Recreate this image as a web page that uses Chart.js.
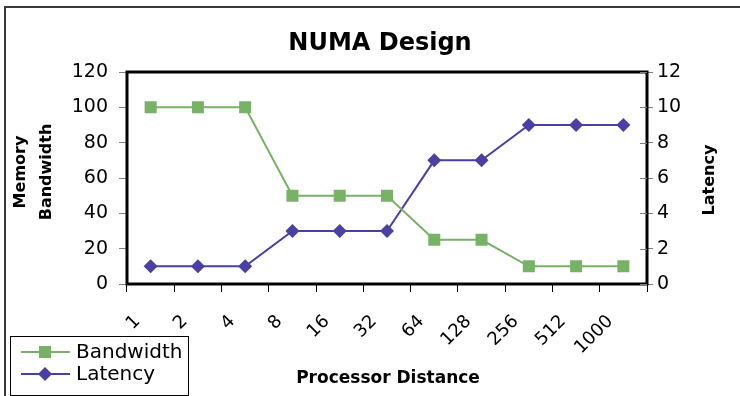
<!DOCTYPE html>
<html>
<head>
<meta charset="utf-8">
<script src="https://cdn.jsdelivr.net/npm/chart.js@4/dist/chart.umd.min.js"></script>
<style>
  html, body { margin: 0; padding: 0; background: #fff; overflow: hidden; }
  #wrap { position: relative; width: 740px; height: 396px; }
</style>
</head>
<body>
<div id="wrap"><canvas id="chart" width="740" height="396"></canvas></div>
<script>
// Processor distance categories and the two measured series
const distances = ['1', '2', '4', '8', '16', '32', '64', '128', '256', '512', '1000'];
const bandwidth = [100, 100, 100, 50, 50, 50, 25, 25, 10, 10, 10];
const latency = [1, 1, 1, 3, 3, 3, 7, 7, 9, 9, 9];

// Axis ranges
const bandwidthRange = [0, 120, 20];
const latencyRange = [0, 12, 2];

const GREEN = '#78b266';
const PURPLE = '#4a3fa2';
const FONT = '"DejaVu Sans", "Liberation Sans", Arial, sans-serif';

const decor = {
  id: 'decor',
  beforeDraw(chart) {
    const ctx = chart.ctx;
    ctx.save();
    ctx.fillStyle = '#fff';
    ctx.fillRect(0, 0, chart.width, chart.height);
    // outer frame (left and top edges)
    ctx.strokeStyle = '#3a3a3a';
    ctx.lineWidth = 2;
    ctx.beginPath();
    ctx.moveTo(5, chart.height);
    ctx.lineTo(5, 7);
    ctx.lineTo(chart.width, 7);
    ctx.stroke();
    ctx.restore();
  },
  afterDraw(chart) {
    const ctx = chart.ctx;
    const a = chart.chartArea;
    ctx.save();

    // plot frame
    ctx.strokeStyle = '#000';
    ctx.lineWidth = 3;
    ctx.strokeRect(a.left, a.top, a.right - a.left, a.bottom - a.top);

    // inner tick marks on the latency axis
    const y1 = chart.scales.y1;
    ctx.strokeStyle = '#7f7f7f';
    ctx.lineWidth = 1;
    y1.ticks.forEach((t) => {
      const y = Math.round(y1.getPixelForValue(t.value)) + 0.5;
      ctx.beginPath();
      ctx.moveTo(a.right - 7, y);
      ctx.lineTo(a.right, y);
      ctx.stroke();
    });

    ctx.fillStyle = '#000';
    ctx.textAlign = 'center';

    // chart title
    ctx.font = 'bold 24px ' + FONT;
    ctx.textBaseline = 'alphabetic';
    ctx.fillText('NUMA Design', 380, 50);

    // x axis title
    ctx.font = 'bold 17px ' + FONT;
    ctx.fillText('Processor Distance', 388, 383);

    // y axis titles
    ctx.font = 'bold 16px ' + FONT;
    ctx.textBaseline = 'middle';
    const vtext = (txt, x, y) => {
      ctx.save();
      ctx.translate(x, y);
      ctx.rotate(-Math.PI / 2);
      ctx.fillText(txt, 0, 0);
      ctx.restore();
    };
    vtext('Memory', 21, 172);
    vtext('Bandwidth', 47, 172);
    vtext('Latency', 710, 180);

    // legend
    ctx.fillStyle = '#fff';
    ctx.fillRect(10.5, 336.5, 178, 59);
    ctx.strokeStyle = '#000';
    ctx.lineWidth = 1;
    ctx.strokeRect(10.5, 336.5, 178, 59);
    const rows = [
      { label: 'Bandwidth', color: GREEN, style: 'rect', y: 352 },
      { label: 'Latency', color: PURPLE, style: 'diamond', y: 374 }
    ];
    rows.forEach((r) => {
      ctx.strokeStyle = r.color;
      ctx.lineWidth = 2;
      ctx.beginPath();
      ctx.moveTo(21, r.y);
      ctx.lineTo(70, r.y);
      ctx.stroke();
      ctx.fillStyle = r.color;
      ctx.beginPath();
      if (r.style === 'rect') {
        ctx.rect(45 - 6, r.y - 6, 12, 12);
      } else {
        ctx.moveTo(45 - 7, r.y);
        ctx.lineTo(45, r.y - 7);
        ctx.lineTo(45 + 7, r.y);
        ctx.lineTo(45, r.y + 7);
        ctx.closePath();
      }
      ctx.fill();
      ctx.fillStyle = '#000';
      ctx.font = '20px ' + FONT;
      ctx.textAlign = 'left';
      ctx.textBaseline = 'middle';
      ctx.fillText(r.label, 76, r.y + 1);
    });

    ctx.restore();
  }
};

new Chart(document.getElementById('chart'), {
  type: 'line',
  data: {
    labels: distances,
    datasets: [
      {
        label: 'Bandwidth',
        data: bandwidth,
        yAxisID: 'y',
        borderColor: GREEN,
        backgroundColor: GREEN,
        borderWidth: 2,
        pointStyle: 'rect',
        pointRadius: 8.5,
        pointHoverRadius: 8.5,
        pointBorderWidth: 0,
        tension: 0
      },
      {
        label: 'Latency',
        data: latency,
        yAxisID: 'y1',
        borderColor: PURPLE,
        backgroundColor: PURPLE,
        borderWidth: 2,
        pointStyle: 'rectRot',
        pointRadius: 7,
        pointHoverRadius: 7,
        pointBorderWidth: 0,
        tension: 0
      }
    ]
  },
  options: {
    responsive: false,
    animation: false,
    devicePixelRatio: 1,
    layout: { padding: { top: 72, left: 0, right: 0, bottom: 0 } },
    plugins: {
      legend: { display: false },
      title: { display: false },
      tooltip: { enabled: false }
    },
    scales: {
      x: {
        type: 'category',
        offset: true,
        grid: { offset: true, drawOnChartArea: false, drawTicks: true, tickLength: 8, color: '#000', lineWidth: 1 },
        border: { display: false },
        ticks: {
          autoSkip: false,
          minRotation: 45,
          maxRotation: 45,
          labelOffset: -13,
          padding: 19,
          color: '#000',
          font: { family: FONT, size: 18 }
        },
        afterFit(scale) { scale.height = 112; }
      },
      y: {
        position: 'left',
        min: bandwidthRange[0],
        max: bandwidthRange[1],
        grid: { drawOnChartArea: false, drawTicks: true, tickLength: 8, color: '#7f7f7f', lineWidth: 1 },
        border: { display: false },
        ticks: {
          stepSize: bandwidthRange[2],
          padding: 11,
          color: '#000',
          font: { family: FONT, size: 19 }
        },
        afterFit(scale) { scale.width = 127; }
      },
      y1: {
        position: 'right',
        min: latencyRange[0],
        max: latencyRange[1],
        grid: { drawOnChartArea: false, drawTicks: true, tickLength: 6, color: '#7f7f7f', lineWidth: 1 },
        border: { display: false },
        ticks: {
          stepSize: latencyRange[2],
          padding: 4,
          color: '#000',
          font: { family: FONT, size: 19 }
        },
        afterFit(scale) { scale.width = 93; }
      }
    }
  },
  plugins: [decor]
});
</script>
</body>
</html>
